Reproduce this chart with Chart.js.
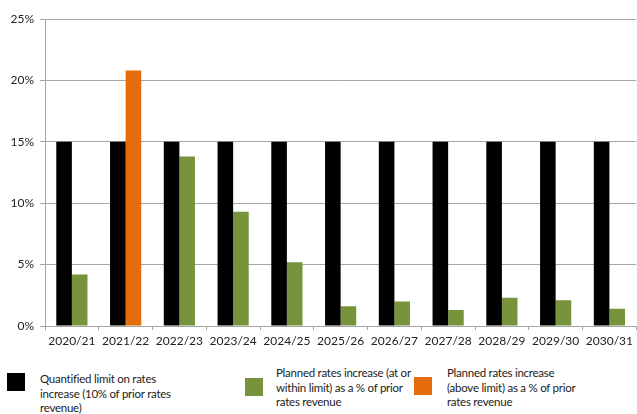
<!DOCTYPE html>
<html>
<head>
<meta charset="utf-8">
<script src="https://cdn.jsdelivr.net/npm/chart.js@4"></script>
<style>
  body { margin: 0; background: #fff; font-family: Lato, "Open Sans", sans-serif; }
  #wrap { position: relative; width: 637px; height: 414px; }
  #legend { position: absolute; left: 0; top: 366px; width: 637px; height: 48px; }
  .item { position: absolute; display: flex; align-items: flex-start; }
  .box { width: 18px; height: 18px; flex: none; }
  .txt { font-size: 11.5px; letter-spacing: -0.25px; line-height: 14.5px; color: #222; white-space: nowrap; }
</style>
</head>
<body>
<div id="wrap">
  <canvas id="myChart" width="637" height="356"></canvas>
  <div id="legend"></div>
</div>
<script>
const years = ['2020/21', '2021/22', '2022/23', '2023/24', '2024/25', '2025/26', '2026/27', '2027/28', '2028/29', '2029/30', '2030/31'];
const limitValues = [15, 15, 15, 15, 15, 15, 15, 15, 15, 15, 15];
const withinValues = [4.2, null, 13.8, 9.3, 5.2, 1.6, 2.0, 1.3, 2.3, 2.1, 1.4];
const aboveValues = [null, 20.8, null, null, null, null, null, null, null, null, null];
// series names, split into the lines shown in the legend
const seriesNames = [
    ['Quantified limit on rates', 'increase (10% of prior rates', 'revenue)'],
    ['Planned rates increase (at or', 'within limit) as a % of prior', 'rates revenue'],
    ['Planned rates increase', '(above limit) as a % of prior', 'rates revenue']
];

const gray = '#a6a6a6';

const data = {
    labels: years,
    datasets: [{
        label: seriesNames[0].join(' '),
        data: limitValues,
        backgroundColor: '#000000',
        stack: 'limit'
    }, {
        label: seriesNames[1].join(' '),
        data: withinValues,
        backgroundColor: '#77933c',
        stack: 'planned'
    }, {
        label: seriesNames[2].join(' '),
        data: aboveValues,
        backgroundColor: '#e46c0a',
        stack: 'planned'
    }]
};

const ctx = document.getElementById('myChart');
const myChart = new Chart(ctx, {
    type: 'bar',
    data: data,
    options: {
        responsive: false,
        animation: false,
        categoryPercentage: 0.58,
        barPercentage: 1.0,
        layout: { padding: { top: 19, right: 0, left: 0, bottom: 0 } },
        plugins: {
            legend: { display: false },
            tooltip: { enabled: false }
        },
        scales: {
            x: {
                stacked: true,
                border: { color: gray },
                grid: {
                    offset: true,
                    drawOnChartArea: false,
                    drawTicks: true,
                    tickLength: 4,
                    color: gray
                },
                ticks: {
                    color: '#222',
                    font: { family: 'Lato', size: 12 },
                    maxRotation: 0,
                    autoSkip: false,
                    padding: 4
                },
                afterFit: (scale) => { scale.height = 30; }
            },
            y: {
                stacked: true,
                min: 0,
                max: 25,
                border: { color: gray },
                grid: {
                    color: gray,
                    tickLength: 5
                },
                ticks: {
                    stepSize: 5,
                    color: '#222',
                    font: { family: 'Lato', size: 12 },
                    padding: 6,
                    callback: (v) => v + '%'
                },
                afterFit: (scale) => { scale.width = 45; }
            }
        }
    }
});

// legend below the chart, built from the datasets
const legendPos = [
    { box: 7, boxTop: 7, top: 6, text: 40 },
    { box: 245, boxTop: 12, top: 0, text: 276 },
    { box: 414, boxTop: 11, top: 0, text: 447 }
];
const legend = document.getElementById('legend');
myChart.data.datasets.forEach((ds, i) => {
    const p = legendPos[i];
    const item = document.createElement('div');
    item.className = 'item';
    item.style.left = p.box + 'px';
    item.style.top = p.top + 'px';
    const box = document.createElement('div');
    box.className = 'box';
    box.style.background = ds.backgroundColor;
    box.style.marginTop = (p.boxTop - p.top) + 'px';
    const txt = document.createElement('div');
    txt.className = 'txt';
    txt.style.marginLeft = (p.text - p.box - 18) + 'px';
    seriesNames[i].forEach((line) => {
        const row = document.createElement('div');
        row.textContent = line;
        txt.appendChild(row);
    });
    item.appendChild(box);
    item.appendChild(txt);
    legend.appendChild(item);
});
</script>
</body>
</html>
